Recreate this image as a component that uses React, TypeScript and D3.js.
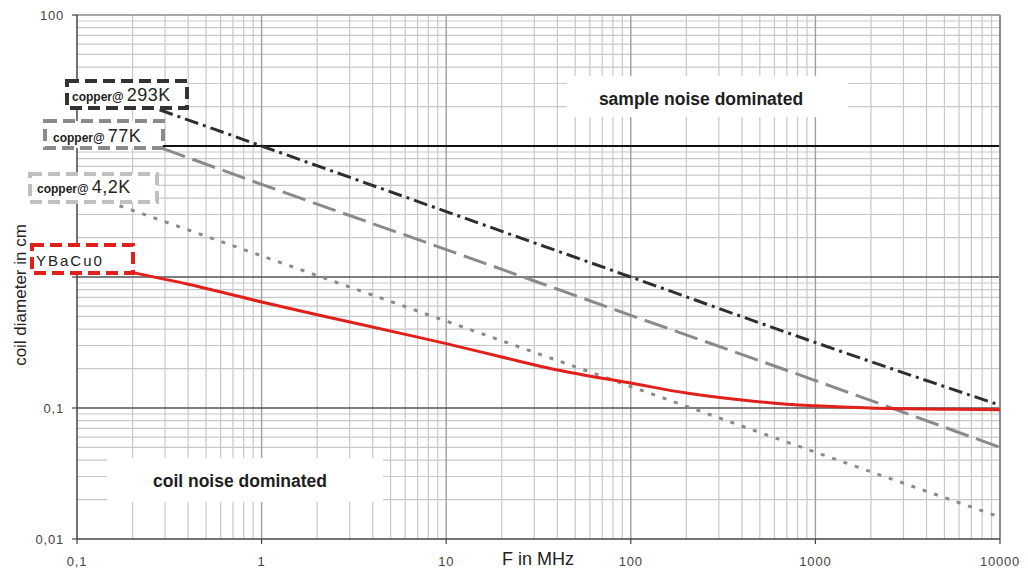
import React from "react";
import * as d3 from "d3";

const W = 1028;
const H = 571;

// series values: [frequency MHz, coil diameter cm]
const copper293K: [number, number][] = [
  [0.28, 18.9], [1, 10], [10, 3.16], [100, 1.0], [1000, 0.316], [10000, 0.105],
];
const copper77K: [number, number][] = [
  [0.29, 9.6], [1, 5.1], [10, 1.62], [100, 0.51], [1000, 0.162], [10000, 0.05],
];
const copper42K: [number, number][] = [
  [0.17, 3.5], [1, 1.45], [10, 0.46], [100, 0.146], [1000, 0.046], [10000, 0.0147],
];
const ybacuo: [number, number][] = [
  [0.2, 1.08], [0.4, 0.88], [1, 0.645], [2, 0.515], [6, 0.365], [10, 0.31],
  [20, 0.245], [40, 0.195], [100, 0.155], [200, 0.13], [400, 0.115],
  [700, 0.107], [1000, 0.104], [2000, 0.1], [5000, 0.098], [10000, 0.097],
];

const xTickValues = [0.1, 1, 10, 100, 1000, 10000];
const xTickLabels = ["0,1", "1", "10", "100", "1000", "10000"];
const yTickValues = [0.01, 0.1, 1, 10, 100];
// labels for 1 and 10 are hidden behind the legend boxes in the reference
const yTickLabels = ["0,01", "0,1", "", "", "100"];

const FONT = "'Liberation Sans', Arial, sans-serif";

export default function App() {
  const x = d3.scaleLog().domain([0.1, 10000]).range([77, 1000]);
  const y = d3.scaleLog().domain([0.01, 100]).range([539, 15]);

  const minorX: number[] = [];
  for (let e = -1; e < 4; e++) for (let k = 2; k <= 9; k++) minorX.push(k * Math.pow(10, e));
  const minorY: number[] = [];
  for (let e = -2; e < 2; e++) for (let k = 2; k <= 9; k++) minorY.push(k * Math.pow(10, e));

  const line = d3
    .line<[number, number]>()
    .x((d) => x(d[0]))
    .y((d) => y(d[1]))
    .curve(d3.curveMonotoneX);

  const series = [
    { data: copper293K, color: "#2e2e2e", dash: "14,5,3,5", width: 3 },
    { data: copper77K, color: "#8a8a8a", dash: "24,8", width: 3 },
    { data: copper42K, color: "#8a8a8a", dash: "4,8", width: 3 },
    { data: ybacuo, color: "#e0201a", dash: null, width: 3 },
  ];

  const labelBoxes = [
    { x0: 67, x1: 187, y0: 81, y1: 108, color: "#333333", tx: 72, ty: 101, big: "293K" },
    { x0: 45, x1: 163, y0: 121, y1: 148, color: "#8a8a8a", tx: 53, ty: 142, big: "77K" },
    { x0: 30, x1: 157, y0: 174, y1: 202, color: "#c0c0c0", tx: 37, ty: 193, big: "4,2K" },
  ];

  return (
    <div style={{ position: "absolute", left: 0, top: 0 }}>
      <svg width={W} height={H} style={{ display: "block", background: "#fff" }}>
        <rect x={0} y={0} width={W} height={H} fill="#fff" />
        {/* minor grid */}
        {minorX.map((v, i) => (
          <line key={"mx" + i} x1={x(v)} x2={x(v)} y1={15} y2={539} stroke="#c8c8c8" strokeWidth={1.2} />
        ))}
        {minorY.map((v, i) => (
          <line key={"my" + i} x1={77} x2={1000} y1={y(v)} y2={y(v)} stroke="#c8c8c8" strokeWidth={1.2} />
        ))}
        {/* major vertical grid */}
        {xTickValues.slice(1, -1).map((v, i) => (
          <line key={"Mx" + i} x1={x(v)} x2={x(v)} y1={15} y2={539} stroke="#a0a0a0" strokeWidth={1.4} />
        ))}
        {/* major horizontal grid */}
        <line x1={77} x2={1000} y1={y(10)} y2={y(10)} stroke="#111" strokeWidth={2} />
        <line x1={77} x2={1000} y1={y(1)} y2={y(1)} stroke="#555" strokeWidth={1.6} />
        <line x1={77} x2={1000} y1={y(0.1)} y2={y(0.1)} stroke="#555" strokeWidth={1.6} />

        {/* region annotation boxes */}
        <rect x={567} y={76} width={281} height={41} fill="#fff" />
        <text x={701} y={105} textAnchor="middle" fontFamily={FONT} fontWeight="bold" fontSize={17.5} fill="#1e1e1e">
          sample noise dominated
        </text>
        <rect x={107} y={458} width={276} height={44} fill="#fff" />
        <text x={240} y={487} textAnchor="middle" fontFamily={FONT} fontWeight="bold" fontSize={17.5} fill="#1e1e1e">
          coil noise dominated
        </text>

        {/* frame and axes */}
        <line x1={77} x2={1000} y1={15} y2={15} stroke="#8a8a8a" strokeWidth={1.5} />
        <line x1={1000} x2={1000} y1={15} y2={539} stroke="#8a8a8a" strokeWidth={2} />
        <line x1={77} x2={77} y1={15} y2={539} stroke="#444" strokeWidth={1.5} />
        <line x1={77} x2={1000} y1={539} y2={539} stroke="#444" strokeWidth={1.5} />
        {xTickValues.map((v, i) => (
          <g key={"xt" + i}>
            <line x1={x(v)} x2={x(v)} y1={539} y2={544} stroke="#444" strokeWidth={1.2} />
            <text x={x(v)} y={566} textAnchor="middle" fontFamily={FONT} fontSize={13} fill="#444" letterSpacing={0.8}>
              {xTickLabels[i]}
            </text>
          </g>
        ))}
        {yTickValues.map((v, i) => (
          <g key={"yt" + i}>
            <line x1={72} x2={77} y1={y(v)} y2={y(v)} stroke="#444" strokeWidth={1.2} />
            {yTickLabels[i] ? (
              <text x={64} y={y(v) + 4.5} textAnchor="end" fontFamily={FONT} fontSize={13} fill="#444" letterSpacing={0.8}>
                {yTickLabels[i]}
              </text>
            ) : null}
          </g>
        ))}

        {/* series */}
        {series.map((s, i) => (
          <path
            key={"s" + i}
            d={line(s.data) || ""}
            fill="none"
            stroke={s.color}
            strokeWidth={s.width}
            strokeDasharray={s.dash || undefined}
          />
        ))}

        {/* label boxes */}
        {labelBoxes.map((b, i) => (
          <g key={"lb" + i}>
            <rect
              x={b.x0}
              y={b.y0}
              width={b.x1 - b.x0}
              height={b.y1 - b.y0}
              fill="#fff"
              stroke={b.color}
              strokeWidth={4}
              strokeDasharray="12,6"
            />
            <text x={b.tx} y={b.ty} fontFamily={FONT} fill="#222">
              <tspan fontSize={12} fontWeight="bold">copper@</tspan>
              <tspan fontSize={18} dx={3} letterSpacing={0.5}>{b.big}</tspan>
            </text>
          </g>
        ))}
        <rect x={32} y={245} width={101} height={28} fill="#fff" stroke="#e0201a" strokeWidth={4} strokeDasharray="12,6" />
        <text x={36} y={266} fontFamily={FONT} fontSize={15} fill="#222" letterSpacing={2}>
          YBaCu0
        </text>

        {/* axis titles */}
        <text x={538} y={565} textAnchor="middle" fontFamily={FONT} fontSize={18} fill="#222">
          F in MHz
        </text>
        <text
          transform={`translate(26,295) rotate(-90)`}
          textAnchor="middle"
          fontFamily={FONT}
          fontSize={17}
          fill="#222"
        >
          coil diameter in cm
        </text>
      </svg>
    </div>
  );
}
